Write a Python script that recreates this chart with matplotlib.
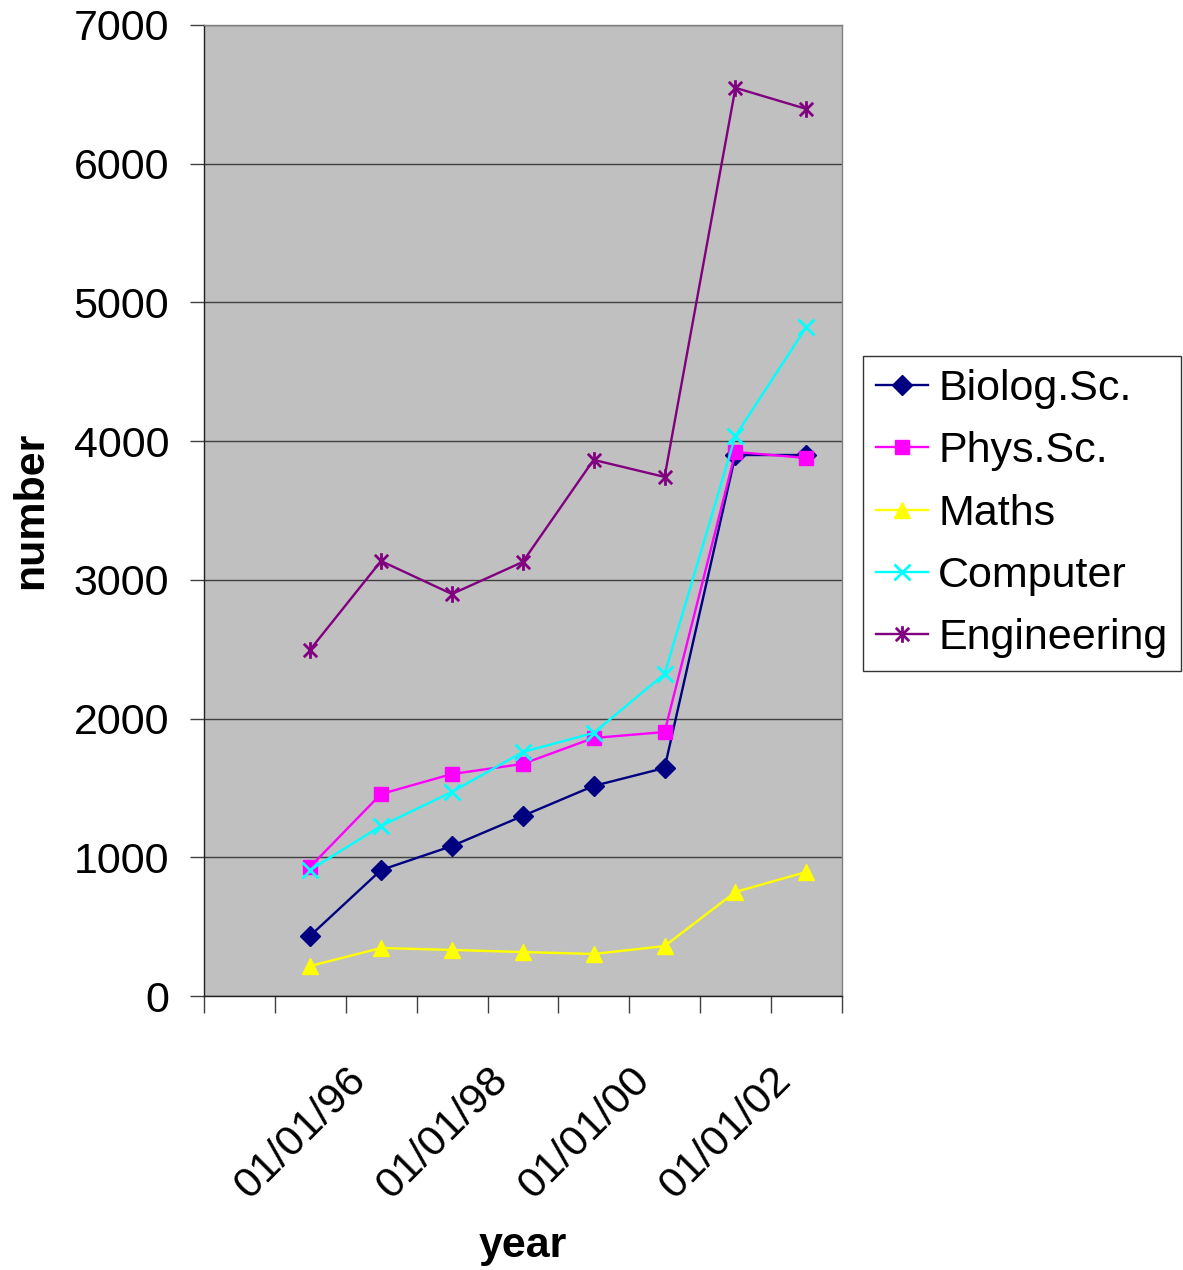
import datetime as dt
import matplotlib
matplotlib.use("Agg")
import matplotlib.pyplot as plt
from matplotlib.path import Path

plt.rcParams["font.family"] = ["Liberation Sans", "DejaVu Sans"]

# Survey years (plotted mid-year)
years = [1995, 1996, 1997, 1998, 1999, 2000, 2001, 2002]

biolog = [433, 908, 1081, 1298, 1514, 1644, 3900, 3900]
phys = [930, 1456, 1600, 1673, 1860, 1903, 3922, 3879]
maths = [216, 346, 332, 317, 303, 360, 750, 894]
computer = [908, 1226, 1471, 1759, 1896, 2322, 4038, 4823]
engineering = [2495, 3136, 2898, 3129, 3865, 3742, 6547, 6395]

series_names = ["Biolog.Sc.", "Phys.Sc.", "Maths", "Computer", "Engineering"]
y_ticks = [0, 1000, 2000, 3000, 4000, 5000, 6000, 7000]
x_label_years = [1996, 1998, 2000, 2002]

dates = [dt.date(y, 7, 1) for y in years]

# Asterisk marker: an "x" with a vertical stroke through it
star_path = Path(
    [(-1, -1), (1, 1), (-1, 1), (1, -1), (0, -1.25), (0, 1.25)],
    [Path.MOVETO, Path.LINETO, Path.MOVETO, Path.LINETO, Path.MOVETO, Path.LINETO],
)

styles = [
    dict(color="#000080", marker="D", ms=10, mec="#000080", mfc="#000080"),
    dict(color="#FF00FF", marker="s", ms=10.5, mec="#FF00FF", mfc="#FF00FF"),
    dict(color="#FFFF00", marker="^", ms=12, mec="#FFFF00", mfc="#FFFF00"),
    dict(color="#00FFFF", marker="x", ms=11, mew=2, mec="#00FFFF"),
    dict(color="#800080", marker=star_path, ms=12, mew=2, mec="#800080"),
]

fig = plt.figure(figsize=(11.83, 12.70), dpi=100)
ax = fig.add_axes([204 / 1183, 1 - 996 / 1270, (842 - 204) / 1183, (996 - 25) / 1270])
ax.set_facecolor("#C0C0C0")

for name, vals, st in zip(series_names, [biolog, phys, maths, computer, engineering], styles):
    ax.plot(dates, vals, lw=1.7, label=name, **st)

ax.set_ylim(0, 7000)
ax.set_yticks(y_ticks)
ax.set_xlim(dt.date(1994, 1, 1), dt.date(2003, 1, 1))

ax.set_xticks([dt.date(y, 1, 1) for y in range(1994, 2004)])
ax.set_xticklabels(
    [dt.date(y, 1, 1).strftime("%m/%d/%y") if y in x_label_years else "" for y in range(1994, 2004)],
    rotation=45, ha="right", va="top", rotation_mode="anchor",
)

ax.yaxis.grid(True, color="#404040", lw=1.0)
ax.set_axisbelow(True)

ax.tick_params(axis="both", labelsize=31, direction="out", width=1, color="#404040")
ax.tick_params(axis="y", length=10, pad=15)
ax.tick_params(axis="x", length=12, pad=34)

for side in ["top", "right"]:
    ax.spines[side].set_color("#808080")
    ax.spines[side].set_linewidth(1)
for side in ["left", "bottom"]:
    ax.spines[side].set_color("#202020")
    ax.spines[side].set_linewidth(1)

ax.set_ylabel("number", fontsize=31, fontweight="bold", labelpad=16)
ax.set_xlabel("year", fontsize=31, fontweight="bold", labelpad=14)

leg = fig.legend(
    loc="upper left", bbox_to_anchor=(863 / 1183, 1 - 356 / 1270),
    fontsize=31, frameon=True, fancybox=False, edgecolor="black",
    handlelength=1.2, handletextpad=0.25, borderpad=0.3, labelspacing=0.52,
    borderaxespad=0,
)
leg.get_frame().set_linewidth(1)

fig.savefig("out.png", dpi=100)
